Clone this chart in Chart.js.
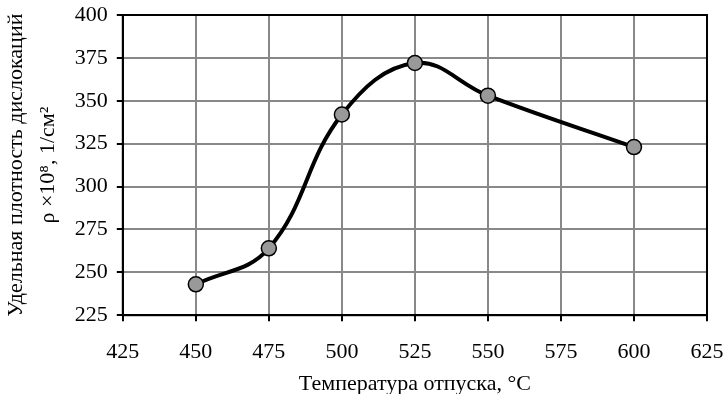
<!DOCTYPE html>
<html>
<head>
<meta charset="utf-8">
<script src="https://cdn.jsdelivr.net/npm/chart.js@4"></script>
<style>
  body { margin: 0; background: #fff; }
  #wrap { width: 723px; height: 394px; }
</style>
</head>
<body>
<div id="wrap"><canvas id="chart"></canvas></div>
<script>
// temperatura otpuska, °C
const temps = [450, 475, 500, 525, 550, 600];
// udelnaya plotnost dislokaciy, x10^8 1/cm^2
const density = [243, 264, 342, 372, 353, 323];
const xTicks = [425, 450, 475, 500, 525, 550, 575, 600, 625];
const yTicks = [225, 250, 275, 300, 325, 350, 375, 400];

const fontFamily = '"Liberation Serif", "Times New Roman", serif';

// rama vokrug oblasti grafika (verh i pravo)
const frame = {
    id: 'frame',
    afterDraw(chart) {
        const a = chart.chartArea;
        const c = chart.ctx;
        c.save();
        c.strokeStyle = '#000';
        c.lineWidth = 2;
        c.strokeRect(a.left, a.top, a.right - a.left, a.bottom - a.top);
        c.restore();
    }
};

const ctx = document.getElementById('chart').getContext('2d');
new Chart(ctx, {
    type: 'line',
    data: {
        datasets: [{
            data: temps.map((t, i) => ({ x: t, y: density[i] })),
            borderColor: '#000',
            borderWidth: 4,
            tension: 0.4,
            pointRadius: 7.5,
            pointBackgroundColor: '#999',
            pointBorderColor: '#000',
            pointBorderWidth: 1.5,
            fill: false
        }]
    },
    options: {
        responsive: true,
        maintainAspectRatio: false,
        animation: false,
        layout: { padding: { top: 15, right: 0, left: 0, bottom: 0 } },
        plugins: {
            legend: { display: false },
            tooltip: { enabled: false }
        },
        scales: {
            x: {
                type: 'linear',
                min: xTicks[0],
                max: xTicks[xTicks.length - 1],
                afterBuildTicks: axis => { axis.ticks = xTicks.map(v => ({ value: v })); },
                afterFit: axis => { axis.paddingLeft = 0; axis.paddingRight = 16; },
                grid: { color: '#888', lineWidth: 2, tickColor: '#000', tickLength: 6, tickWidth: 2 },
                border: { color: '#000', width: 2 },
                ticks: { color: '#000', font: { family: fontFamily, size: 22 }, padding: 18, maxRotation: 0 },
                title: {
                    display: true,
                    text: 'Температура отпуска, °С',
                    color: '#000',
                    font: { family: fontFamily, size: 22 },
                    padding: { top: -13, bottom: -3 }
                }
            },
            y: {
                min: yTicks[0],
                max: yTicks[yTicks.length - 1],
                afterBuildTicks: axis => { axis.ticks = yTicks.map(v => ({ value: v })); },
                afterFit: axis => { axis.paddingTop = 0; axis.paddingBottom = 0; },
                grid: { color: '#888', lineWidth: 2, tickColor: '#000', tickLength: 6, tickWidth: 2 },
                border: { color: '#000', width: 2 },
                ticks: { color: '#000', font: { family: fontFamily, size: 22 }, padding: 9 },
                title: {
                    display: true,
                    text: ['Удельная плотность дислокаций', 'ρ ×10⁸, 1/см²'],
                    color: '#000',
                    font: { family: fontFamily, size: 22, lineHeight: 1.45 },
                    padding: { top: 0, bottom: 2 }
                }
            }
        }
    },
    plugins: [frame]
});
</script>
</body>
</html>
